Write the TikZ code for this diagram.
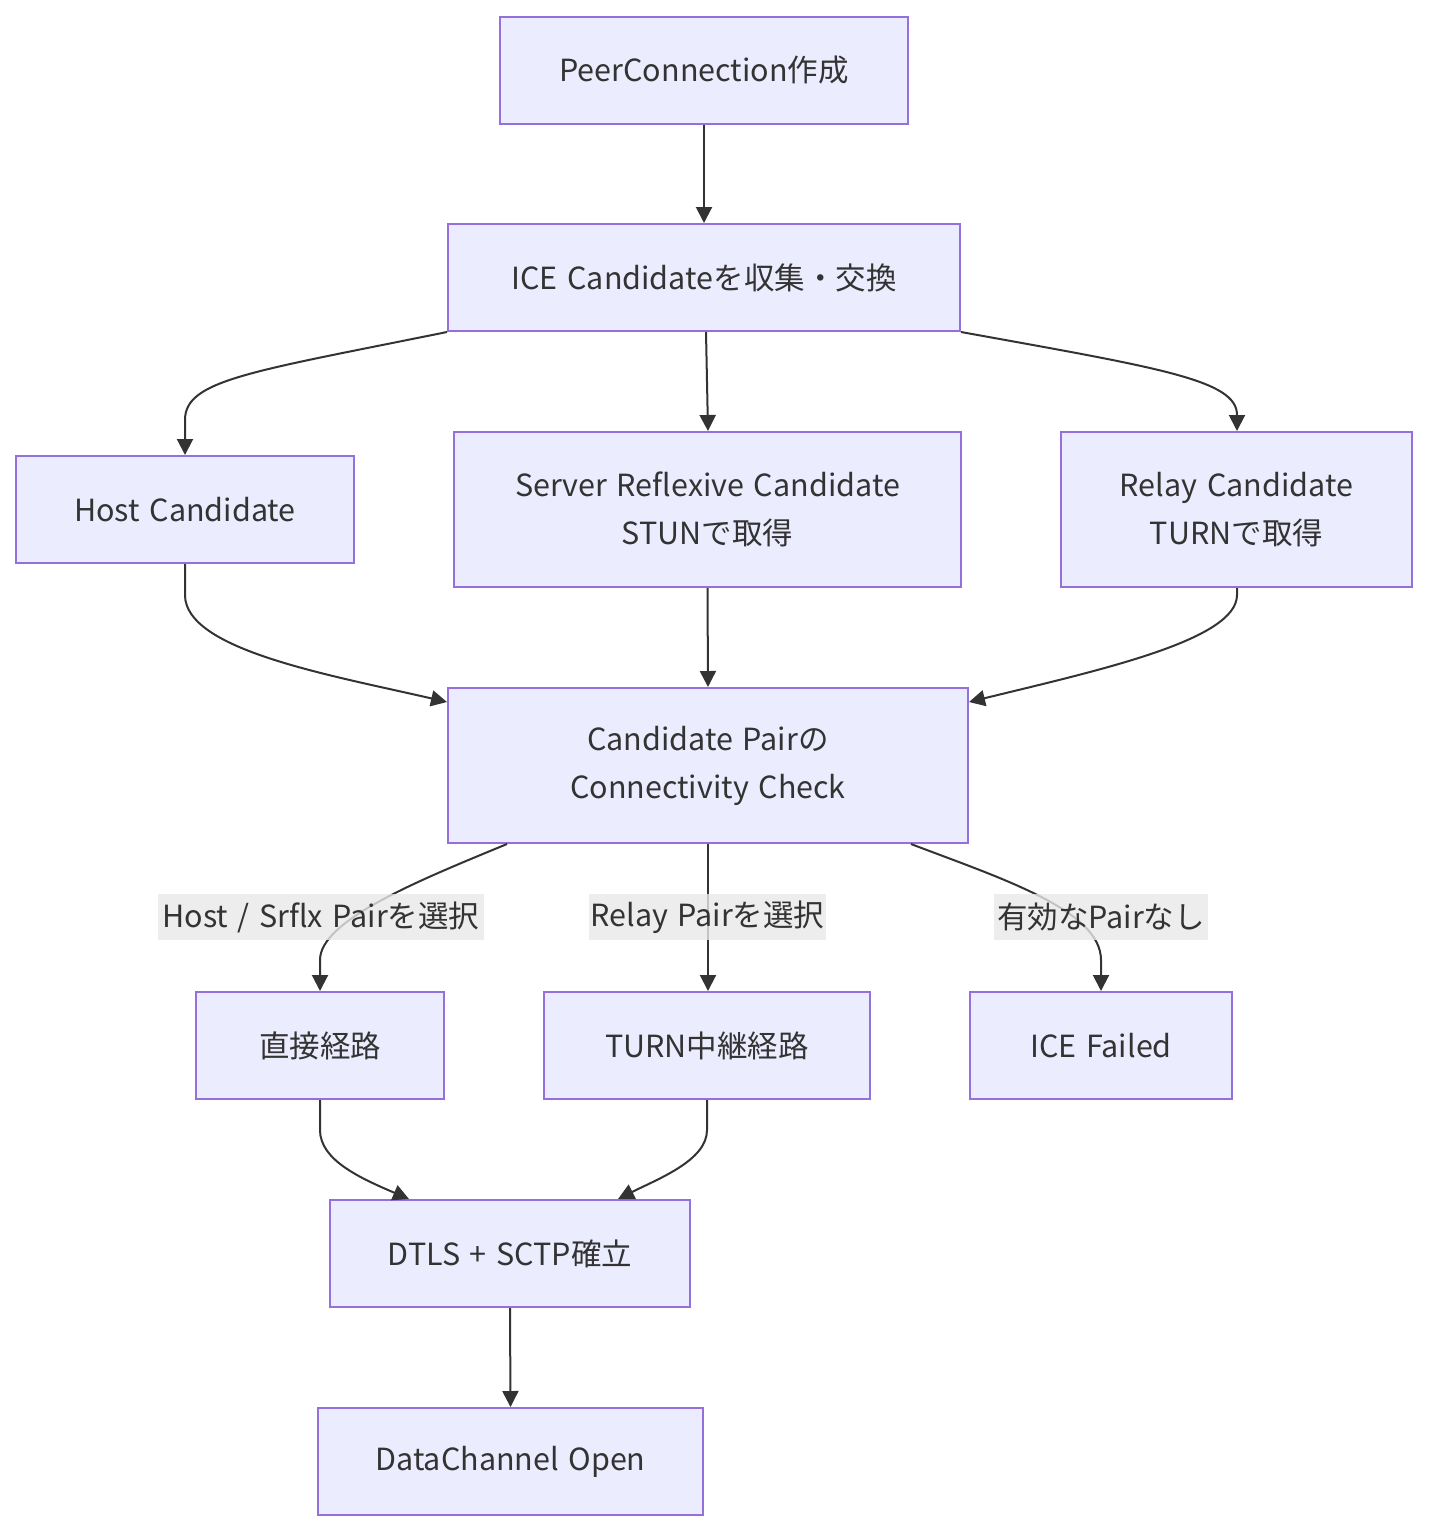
\documentclass[tikz,border=0pt]{standalone}
\usepackage{fontspec}
\setmainfont{Noto Sans CJK JP}[WordSpace=1.4]
\usetikzlibrary{arrows.meta}
\definecolor{nodefill}{HTML}{ECECFF}
\definecolor{nodeline}{HTML}{9370DB}
\definecolor{edgecol}{HTML}{333333}
\definecolor{lblbg}{HTML}{E8E8E8}
\tikzset{
  box/.style={draw=nodeline, fill=nodefill, line width=2pt, rectangle, inner sep=0pt,
    text=edgecol, font=\fontsize{30.5}{48}\selectfont, align=center},
  edge/.style={draw=edgecol, line width=2pt, -{Triangle[length=16pt,width=16pt]}},
  elabel/.style={fill=lblbg, fill opacity=0.8, text opacity=1, text=edgecol,
    font=\fontsize{30.5}{34}\selectfont, inner xsep=1pt, inner ysep=0pt,
    minimum height=46pt}
}
\begin{document}
\begin{tikzpicture}[x=1pt,y=-1pt]
\useasboundingbox (0,0) rectangle (1429,1532);
\node[box, minimum width=408pt, minimum height=107pt] (n1) at (704,70) {PeerConnection作成};
\node[box, minimum width=512pt, minimum height=107pt] (n2) at (704,277.5) {ICE Candidateを収集・交換};
\node[box, minimum width=338pt, minimum height=107pt] (n3) at (185,509.5) {Host Candidate};
\node[box, minimum width=507pt, minimum height=155pt] (n4) at (707.5,509.5) {Server Reflexive Candidate\\STUNで取得};
\node[box, minimum width=351pt, minimum height=155pt] (n5) at (1236.5,509.5) {Relay Candidate\\TURNで取得};
\node[box, minimum width=520pt, minimum height=155pt] (n6) at (708,765.5) {Candidate Pairの\\Connectivity Check};
\node[box, minimum width=248pt, minimum height=107pt] (n7) at (320,1045.5) {直接経路};
\node[box, minimum width=326pt, minimum height=107pt] (n8) at (707,1045.5) {TURN中継経路};
\node[box, minimum width=262pt, minimum height=107pt] (n9) at (1101,1045.5) {ICE Failed};
\node[box, minimum width=360pt, minimum height=107pt] (n10) at (510,1253.5) {DTLS + SCTP確立};
\node[box, minimum width=385pt, minimum height=107pt] (n11) at (510.5,1461.5) {DataChannel Open};

\draw[edge] (n1) -- (n2);
\draw[edge] (n2.south west) .. controls (250,372) and (185,380) .. (185,420) -- (n3.north);
\draw[edge] ([xshift=2pt]n2.south) -- ([xshift=0.5pt]n4.north);
\draw[edge] (n2.south east) .. controls (1160,368) and (1237,380) .. (1237,415) -- ([xshift=0.5pt]n5.north);
\draw[edge] (n3.south) -- (185,595) .. controls (185,650) and (330,675) .. ([yshift=-15pt]n6.north west);
\draw[edge] (n4.south) -- (n6.north);
\draw[edge] ([xshift=0.5pt]n5.south) -- (1237,595) .. controls (1237,640) and (1100,670) .. ([yshift=-15pt]n6.north east);
\draw[edge] ([xshift=60pt]n6.south west) .. controls (420,880) and (320,920) .. (320,960) -- (n7.north);
\draw[edge] (n6.south) -- (n6.south |- n8.north);
\draw[edge] ([xshift=-58pt]n6.south east) .. controls (1000,878) and (1101,910) .. (1101,960) -- (n9.north);
\draw[edge] (n7.south) -- (320,1130) .. controls (320,1160) and (360,1178) .. ([xshift=80pt]n10.north west);
\draw[edge] (n8.south) -- (707,1130) .. controls (707,1160) and (660,1178) .. ([xshift=-73pt]n10.north east);
\draw[edge] (n10.south) -- (n11.north);

\node[elabel, minimum width=326pt] (l1) at (321,917) {Host / Srflx Pairを選択};
\node[elabel, minimum width=237pt] (l2) at (707.5,917) {Relay Pairを選択};
\node[elabel, minimum width=214pt] (l3) at (1101,917) {有効なPairなし};
\end{tikzpicture}
\end{document}
